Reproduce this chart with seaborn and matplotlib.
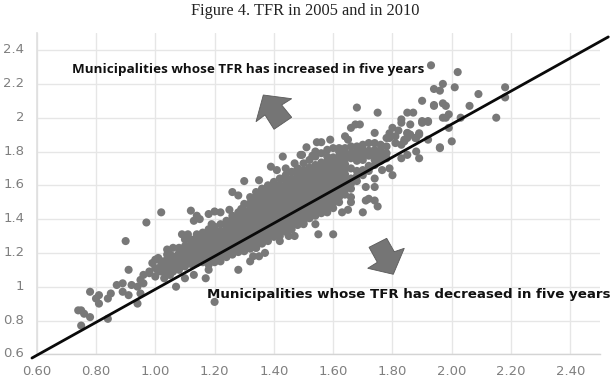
import matplotlib
matplotlib.use("Agg")
import matplotlib.pyplot as plt
from matplotlib.patches import Polygon
from matplotlib.transforms import ScaledTranslation
import pandas as pd
import seaborn as sns

WIDTH, HEIGHT = 613, 381

# Scattered municipalities around the main cloud: TFR in 2005 and in 2010
tail_2005 = [0.75, 0.74, 0.76, 0.75, 0.78, 0.78, 0.81, 0.80, 0.81, 0.84, 0.85, 0.84, 0.87, 0.89, 0.89, 0.91,
             0.92, 0.94, 0.95, 0.96, 0.95, 0.94, 0.90, 0.91, 0.97, 1.02, 1.12, 0.98, 0.98, 1.00, 0.99, 1.01,
             1.00, 1.03, 1.01, 1.04, 1.04, 1.06, 1.06, 1.07, 1.05, 1.08, 1.09, 1.10, 1.11, 1.08, 1.10, 1.02,
             1.03, 1.05, 0.96, 1.00]
tail_2010 = [0.86, 0.86, 0.84, 0.77, 0.97, 0.82, 0.95, 0.93, 0.90, 0.93, 0.96, 0.81, 1.01, 1.02, 0.97, 0.95,
             1.01, 1.00, 1.04, 1.02, 0.96, 0.90, 1.27, 1.10, 1.38, 1.44, 1.45, 1.09, 1.08, 1.16, 1.14, 1.17,
             1.06, 1.05, 1.09, 1.11, 1.22, 1.23, 1.17, 1.12, 1.07, 1.16, 1.31, 1.28, 1.20, 1.10, 1.14, 1.13,
             1.15, 1.19, 1.07, 1.11]

# Points along the upper edge of the cloud
upper_2005 = [1.11, 1.13, 1.14, 1.15, 1.18, 1.19, 1.20, 1.22, 1.25, 1.29, 1.26, 1.28, 1.30, 1.35, 1.39, 1.41,
              1.44, 1.43, 1.47, 1.49, 1.51, 1.495, 1.53, 1.54, 1.545, 1.56, 1.59, 1.64, 1.65, 1.66, 1.675,
              1.69, 1.68, 1.75, 1.74]
upper_2010 = [1.31, 1.39, 1.42, 1.40, 1.43, 1.37, 1.445, 1.44, 1.455, 1.46, 1.56, 1.54, 1.625, 1.63, 1.71, 1.69,
              1.70, 1.77, 1.73, 1.78, 1.825, 1.78, 1.775, 1.80, 1.855, 1.855, 1.87, 1.89, 1.87, 1.94, 1.96,
              1.96, 2.06, 2.03, 1.91]

# Points along the lower edge of the cloud
lower_2005 = [1.07, 1.10, 1.13, 1.17, 1.18, 1.20, 1.28, 1.32, 1.35, 1.37, 1.34, 1.33, 1.36, 1.42, 1.45, 1.47,
              1.50, 1.50, 1.54, 1.55, 1.60, 1.63, 1.65, 1.66, 1.66, 1.70, 1.71, 1.72, 1.74, 1.75, 1.74, 1.71,
              1.74, 1.765, 1.79, 1.80]
lower_2010 = [1.00, 1.05, 1.07, 1.05, 1.10, 0.91, 1.10, 1.15, 1.18, 1.20, 1.23, 1.18, 1.26, 1.27, 1.30, 1.30,
              1.37, 1.375, 1.37, 1.31, 1.31, 1.44, 1.455, 1.50, 1.53, 1.44, 1.51, 1.52, 1.51, 1.475, 1.59, 1.59,
              1.64, 1.69, 1.70, 1.66]

# High-fertility municipalities at the right of the plot
high_2005 = [1.93, 2.02, 1.94, 1.96, 1.97, 2.01, 2.18, 2.18, 2.09, 2.06, 1.90, 1.94, 1.97, 1.98, 1.85, 1.87,
             1.86, 1.83, 1.83, 1.90, 1.92, 1.92, 1.90, 1.99, 1.97, 1.98, 2.03, 2.15, 1.99, 1.92, 2.00, 1.96,
             1.89, 1.877, 1.85, 1.84, 1.85, 1.88, 1.89, 1.85, 1.83, 1.80, 1.79, 1.82, 1.79, 1.81, 1.85, 1.86,
             1.89, 1.88, 1.84, 1.83, 1.81, 1.96, 1.94]
high_2010 = [2.31, 2.27, 2.17, 2.16, 2.20, 2.18, 2.18, 2.12, 2.14, 2.07, 2.10, 2.07, 2.085, 2.07, 2.03, 2.03,
             1.96, 1.99, 1.97, 1.97, 1.98, 1.975, 1.98, 2.02, 2.00, 2.00, 2.00, 2.00, 1.94, 1.87, 1.86, 1.82,
             1.90, 1.88, 1.91, 1.86, 1.88, 1.80, 1.76, 1.78, 1.76, 1.94, 1.908, 1.924, 1.88, 1.89, 1.908, 1.90,
             1.908, 1.88, 1.87, 1.84, 1.85, 1.825, 2.075]

# Dense core of the cloud, listed by 2005 TFR
core_2005 = [1.02, 1.04, 1.06, 1.08, 1.10, 1.12, 1.14, 1.16, 1.18, 1.20, 1.22, 1.24, 1.26, 1.28, 1.30, 1.32, 1.34,
             1.36, 1.38, 1.40, 1.42, 1.44, 1.46, 1.48, 1.50, 1.52, 1.54, 1.56, 1.58, 1.60, 1.62, 1.64, 1.66, 1.68,
             1.70, 1.72, 1.74, 1.76, 1.78]
core_2010 = [
    [1.09, 1.12, 1.15],
    [1.07, 1.10, 1.13, 1.16, 1.19],
    [1.09, 1.12, 1.15, 1.18],
    [1.11, 1.14, 1.17, 1.20, 1.23],
    [1.12, 1.15, 1.18, 1.21, 1.24],
    [1.135, 1.165, 1.195, 1.225, 1.255, 1.28],
    [1.14, 1.17, 1.20, 1.23, 1.26, 1.29, 1.31],
    [1.145, 1.175, 1.205, 1.235, 1.265, 1.295, 1.32],
    [1.13, 1.16, 1.19, 1.22, 1.25, 1.28, 1.31, 1.34],
    [1.145, 1.175, 1.205, 1.235, 1.265, 1.295, 1.325, 1.355],
    [1.15, 1.18, 1.21, 1.24, 1.27, 1.30, 1.33, 1.37],
    [1.175, 1.205, 1.235, 1.265, 1.295, 1.325, 1.355, 1.39],
    [1.19, 1.22, 1.25, 1.28, 1.31, 1.34, 1.37, 1.40, 1.42],
    [1.205, 1.235, 1.265, 1.295, 1.325, 1.355, 1.385, 1.415, 1.44],
    [1.21, 1.24, 1.27, 1.30, 1.33, 1.36, 1.39, 1.42, 1.45, 1.49],
    [1.225, 1.255, 1.285, 1.315, 1.345, 1.375, 1.405, 1.435, 1.465, 1.495, 1.53],
    [1.23, 1.26, 1.29, 1.32, 1.35, 1.38, 1.41, 1.44, 1.47, 1.50, 1.53, 1.56],
    [1.255, 1.285, 1.315, 1.345, 1.375, 1.405, 1.435, 1.465, 1.495, 1.525, 1.555, 1.58],
    [1.27, 1.30, 1.33, 1.36, 1.39, 1.42, 1.45, 1.48, 1.51, 1.54, 1.57, 1.60],
    [1.295, 1.325, 1.355, 1.385, 1.415, 1.445, 1.475, 1.505, 1.535, 1.565, 1.595, 1.62],
    [1.30, 1.33, 1.36, 1.39, 1.42, 1.45, 1.48, 1.51, 1.54, 1.57, 1.60, 1.64],
    [1.325, 1.355, 1.385, 1.415, 1.445, 1.475, 1.505, 1.535, 1.565, 1.595, 1.625, 1.66],
    [1.34, 1.37, 1.40, 1.43, 1.46, 1.49, 1.52, 1.55, 1.58, 1.61, 1.64, 1.68],
    [1.365, 1.395, 1.425, 1.455, 1.485, 1.515, 1.545, 1.575, 1.605, 1.635, 1.665, 1.70],
    [1.39, 1.42, 1.45, 1.48, 1.51, 1.54, 1.57, 1.60, 1.63, 1.66, 1.69, 1.73],
    [1.405, 1.435, 1.465, 1.495, 1.525, 1.555, 1.585, 1.615, 1.645, 1.675, 1.705, 1.75],
    [1.42, 1.45, 1.48, 1.51, 1.54, 1.57, 1.60, 1.63, 1.66, 1.69, 1.72, 1.77],
    [1.435, 1.465, 1.495, 1.525, 1.555, 1.585, 1.615, 1.645, 1.675, 1.705, 1.735, 1.79],
    [1.44, 1.47, 1.50, 1.53, 1.56, 1.59, 1.62, 1.65, 1.68, 1.71, 1.74, 1.77, 1.81],
    [1.465, 1.495, 1.525, 1.555, 1.585, 1.615, 1.645, 1.675, 1.705, 1.735, 1.765, 1.82],
    [1.50, 1.53, 1.56, 1.59, 1.62, 1.65, 1.68, 1.71, 1.74, 1.77, 1.80, 1.82],
    [1.545, 1.575, 1.605, 1.635, 1.665, 1.695, 1.725, 1.755, 1.785, 1.82],
    [1.58, 1.61, 1.64, 1.70, 1.76, 1.79, 1.83],
    [1.625, 1.655, 1.685, 1.745, 1.775, 1.805, 1.83],
    [1.66, 1.69, 1.75, 1.78, 1.81, 1.84],
    [1.685, 1.715, 1.775, 1.805, 1.85],
    [1.72, 1.75, 1.78, 1.81, 1.85],
    [1.745, 1.775, 1.805, 1.84],
    [1.76, 1.79, 1.83, 1.88],
]

# Reference line for an unchanged TFR
line_2005 = [0.584, 2.528]
line_2010 = [0.578, 2.478]

x_ticks = [0.60, 0.80, 1.00, 1.20, 1.40, 1.60, 1.80, 2.00, 2.20, 2.40]
y_ticks = [0.6, 0.8, 1.0, 1.2, 1.4, 1.6, 1.8, 2.0, 2.2, 2.4]
y_labels = ["0.6", "0.8", "1", "1.2", "1.4", "1.6", "1.8", "2", "2.2", "2.4"]

title_text = "Figure 4. TFR in 2005 and in 2010"
increase_text = "Municipalities whose TFR has increased in five years"
decrease_text = "Municipalities whose TFR has decreased in five years"

points = pd.DataFrame({
    "tfr_2005": tail_2005 + upper_2005 + lower_2005 + high_2005
    + [x for x, col in zip(core_2005, core_2010) for _ in col],
    "tfr_2010": tail_2010 + upper_2010 + lower_2010 + high_2010
    + [y for col in core_2010 for y in col],
})

sns.set_theme(style="white")
fig = plt.figure(figsize=(WIDTH / 100, HEIGHT / 100), dpi=100, facecolor="white")
ax = fig.add_axes([36.7 / WIDTH, 1 - 354.3 / HEIGHT, (600 - 36.7) / WIDTH, (354.3 - 33.2) / HEIGHT])
ax.set_xlim(0.6, 2.5)
ax.set_ylim(0.6, 2.5)
ax.set_xticks(x_ticks)
ax.set_xticklabels([f"{v:.2f}" for v in x_ticks])
ax.set_yticks(y_ticks)
ax.set_yticklabels(y_labels)
ax.grid(True, color="#e6e6e6", linewidth=1.0)
ax.set_axisbelow(True)
for side in ("top", "right"):
    ax.spines[side].set_visible(False)
ax.spines["left"].set_color("#e0e0e0")
ax.spines["bottom"].set_color("#d4d4d4")
ax.spines["bottom"].set_linewidth(1.0)
ax.tick_params(length=0, labelcolor="#7f7f7f", labelsize=9.5, pad=9)
ax.tick_params(axis="x", pad=8)
lift = ScaledTranslation(0, 2 / 100, fig.dpi_scale_trans)
for label in ax.get_yticklabels():
    label.set_fontfamily("DejaVu Sans")
    label.set_transform(label.get_transform() + lift)
for label in ax.get_xticklabels():
    label.set_fontfamily("DejaVu Sans")

sns.scatterplot(data=points, x="tfr_2005", y="tfr_2010", ax=ax, color="#787878",
                s=34, linewidth=0, edgecolor="none", alpha=1, legend=False, zorder=3)
ax.set_xlabel("")
ax.set_ylabel("")
ax.plot(line_2005, line_2010, color="#0a0a0a", linewidth=2.0, clip_on=False, zorder=4)


def figure_xy(px, py):
    """Pixel position from the top-left corner as figure fractions."""
    return px / WIDTH, 1 - py / HEIGHT


fig.text(*figure_xy(305, 11), title_text, ha="center", va="center", fontsize=11.8,
         family="Liberation Serif", color="#222222")
fig.text(*figure_xy(72, 69.5), increase_text, ha="left", va="center", fontsize=9.7,
         family="Open Sans", weight="bold", color="#111111", zorder=5)
fig.text(*figure_xy(207, 294.5), decrease_text, ha="left", va="center", fontsize=9.6,
         family="DejaVu Sans", weight="bold", color="#111111", zorder=5)

# Block arrows pointing away from the line
arrow_up = [(263.3, 95), (291.7, 98.7), (281.7, 105), (291.7, 117.3), (274, 129.3), (265, 115), (256, 121.7)]
arrow_down = [(369, 247.3), (386.7, 238.3), (394.3, 251.7), (404.3, 248.3), (393.3, 274.3), (367.7, 268.3),
              (377.3, 262.3)]
for shape in (arrow_up, arrow_down):
    fig.add_artist(Polygon([figure_xy(*p) for p in shape], closed=True, transform=fig.transFigure,
                           facecolor="#757575", edgecolor="#5a5a5a", linewidth=0.6))

fig.savefig("out.png", dpi=100)
